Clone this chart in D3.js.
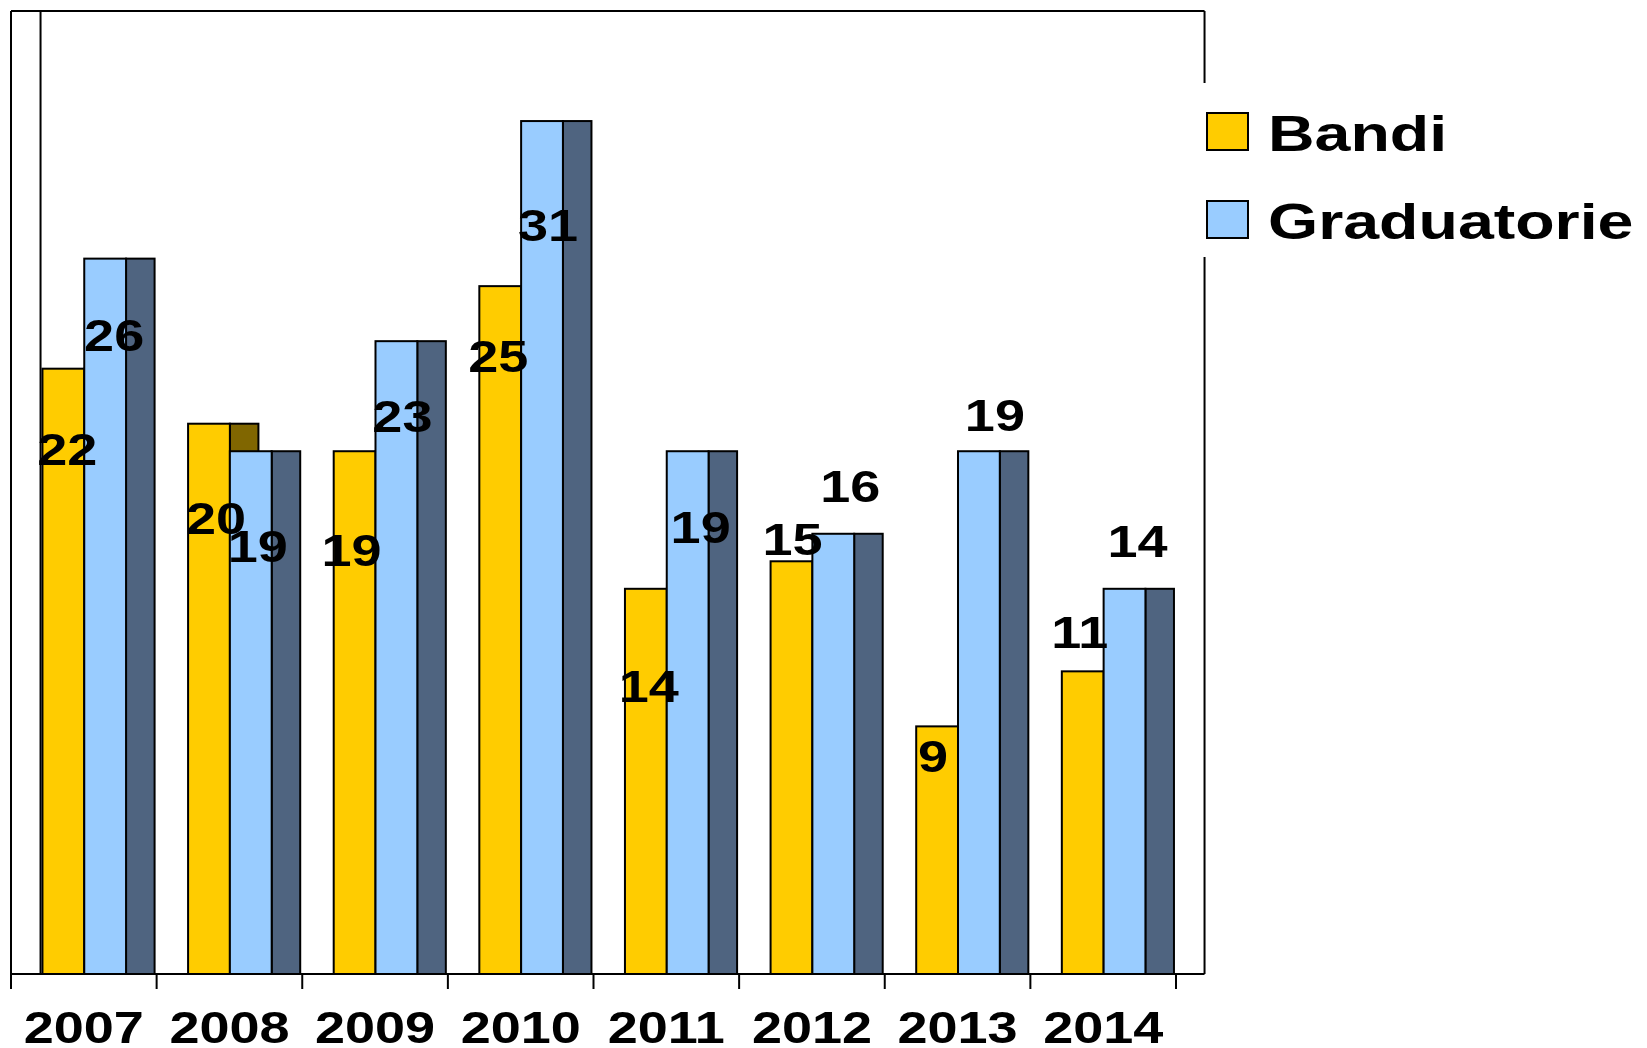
<!DOCTYPE html>
<html>
<head>
<meta charset="utf-8">
<script src="https://cdn.jsdelivr.net/npm/d3@7"></script>
<style>
  body { margin: 0; background: #fff; }
  svg { display: block; }
  svg text { font-family: "Liberation Sans", Arial, Helvetica, sans-serif; font-weight: bold; }
</style>
</head>
<body>
<div id="chart"></div>
<script>
var years = ["2007", "2008", "2009", "2010", "2011", "2012", "2013", "2014"];
var bandi = [22, 20, 19, 25, 14, 15, 9, 11];
var graduatorie = [26, 19, 23, 31, 19, 16, 19, 14];
var seriesNames = ["Bandi", "Graduatorie"];

// label nudges (px) from the top-centre of each bar front, as placed in the original
var bandiNudge = [[4, 96], [7, 110], [-3, 115], [-2, 86], [3, 113], [1, -6], [-4, 46], [-3, -23]];
var gradNudge = [[9, 92], [7, 111], [6, 91], [6, 120], [13, 92], [17, -32], [16, -20], [13, -32]];

var w = 1647, h = 1048;
var plotLeft = 11, plotRight = 1176, plotTop = 11, base = 974;
var stretch = 1.2;

var front = ["#ffcc00", "#99ccff"];
var side = ["#806600", "#4f6480"];

var svg = d3.select("#chart").append("svg")
  .attr("width", w)
  .attr("height", h);

var x = d3.scaleBand().domain(years).range([plotLeft, plotRight]);
var y = d3.scaleLinear().domain([0, 35]).range([base, plotTop]);
var bw = x.bandwidth();
var barW = bw * 0.287;
var depth = bw * 0.196;
var off = [bw * 0.216, bw * 0.216 + barW];

// frame
var frame = svg.append("g").attr("stroke", "#000").attr("stroke-width", 2).attr("fill", "none");
frame.append("line").attr("x1", plotLeft).attr("x2", plotRight + depth).attr("y1", plotTop).attr("y2", plotTop);
frame.append("line").attr("x1", plotLeft).attr("x2", plotLeft).attr("y1", plotTop).attr("y2", base + 15);
frame.append("line").attr("x1", plotLeft + depth + 1).attr("x2", plotLeft + depth + 1).attr("y1", plotTop).attr("y2", base);
frame.append("line").attr("x1", plotRight + depth).attr("x2", plotRight + depth).attr("y1", plotTop).attr("y2", base);

var data = [bandi, graduatorie];

data.forEach(function(vals, s) {
  var g = svg.append("g");
  // side face of the pseudo-3D bar
  g.selectAll("rect.side")
    .data(vals)
    .enter()
    .append("rect")
    .attr("class", "side")
    .attr("x", function(d, i) { return x(years[i]) + off[s] + barW; })
    .attr("y", function(d) { return y(d); })
    .attr("width", depth)
    .attr("height", function(d) { return base - y(d); })
    .attr("fill", side[s])
    .attr("stroke", "#000")
    .attr("stroke-width", 2);
  g.selectAll("rect.front")
    .data(vals)
    .enter()
    .append("rect")
    .attr("class", "front")
    .attr("x", function(d, i) { return x(years[i]) + off[s]; })
    .attr("y", function(d) { return y(d); })
    .attr("width", barW)
    .attr("height", function(d) { return base - y(d); })
    .attr("fill", front[s])
    .attr("stroke", "#000")
    .attr("stroke-width", 2);
});

// baseline + boundary ticks
var axis = svg.append("g").attr("transform", "translate(0," + base + ")");
axis.append("line").attr("x1", plotLeft).attr("x2", plotRight + depth).attr("stroke", "#000").attr("stroke-width", 2);
axis.selectAll("line.tick")
  .data(years.concat(["end"]))
  .enter()
  .append("line")
  .attr("class", "tick")
  .attr("x1", function(d, i) { return plotLeft + i * bw; })
  .attr("x2", function(d, i) { return plotLeft + i * bw; })
  .attr("y1", 0)
  .attr("y2", 15)
  .attr("stroke", "#000")
  .attr("stroke-width", 2);

var xAxis = svg.append("g")
  .attr("transform", "translate(0," + base + ")")
  .call(d3.axisBottom(x).tickSize(0).tickPadding(0));
xAxis.select(".domain").remove();
xAxis.attr("font-family", null).attr("font-size", null);
xAxis.selectAll("text")
  .attr("y", 69)
  .attr("dy", 0)
  .attr("font-size", 45)
  .attr("fill", "#000")
  .attr("transform", "scale(" + stretch + ",1)");

// value labels
data.forEach(function(vals, s) {
  var nudge = s === 0 ? bandiNudge : gradNudge;
  svg.append("g").selectAll("text")
    .data(vals)
    .enter()
    .append("text")
    .attr("transform", function(d, i) {
      var cx = x(years[i]) + off[s] + barW / 2 + nudge[i][0];
      var cy = y(d) + nudge[i][1];
      return "translate(" + cx + "," + cy + ") scale(" + stretch + ",1)";
    })
    .attr("text-anchor", "middle")
    .attr("font-size", 45)
    .attr("fill", "#000")
    .text(function(d) { return d; });
});

// legend
var legend = svg.append("g");
legend.append("rect")
  .attr("x", plotRight + depth - 6)
  .attr("y", 83)
  .attr("width", w - (plotRight + depth - 6))
  .attr("height", 174)
  .attr("fill", "#fff");
var items = legend.selectAll("g.item")
  .data(seriesNames)
  .enter()
  .append("g")
  .attr("class", "item")
  .attr("transform", function(d, i) { return "translate(1207," + (113 + i * 88) + ")"; });
items.append("rect")
  .attr("width", 41)
  .attr("height", 37)
  .attr("fill", function(d, i) { return front[i]; })
  .attr("stroke", "#000")
  .attr("stroke-width", 2);
items.append("text")
  .attr("transform", "translate(61,38) scale(1.29,1)")
  .attr("font-size", 50)
  .attr("fill", "#000")
  .text(function(d) { return d; });
</script>
</body>
</html>
